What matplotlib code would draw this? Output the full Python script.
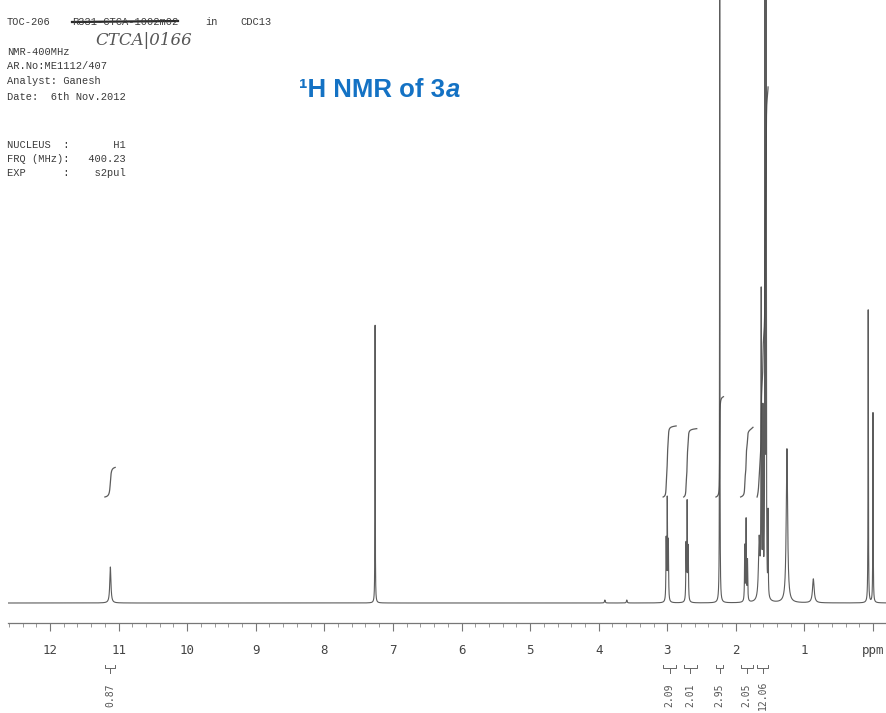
"""Scanned 1H NMR spectrum of 3a, redrawn with matplotlib."""

import matplotlib
matplotlib.use("Agg")
import matplotlib.pyplot as plt
import matplotlib.transforms as mtransforms
import numpy as np

W, H = 887, 713
INK = "#4a4a4a"
TITLE_BLUE = "#1472c4"

# peak list: shift (ppm), height (arb.), half width (ppm)
peak_shift = [11.12, 7.26, 3.91, 3.59,
              3.016, 3.000, 2.984,
              2.726, 2.710, 2.694,
              2.235,
              1.870, 1.850, 1.830,
              1.660, 1.630, 1.605, 1.575, 1.558, 1.530,
              1.255, 0.870, 0.070, 0.000]
peak_height = [36, 278, 3, 3,
               60, 100, 58,
               55, 97, 52,
               720,
               55, 81, 40,
               60, 300, 180, 680, 620, 83,
               154, 24, 293, 190]
peak_width = [0.010, 0.0025, 0.006, 0.006,
              0.004, 0.004, 0.004,
              0.004, 0.004, 0.004,
              0.0025,
              0.004, 0.004, 0.004,
              0.012, 0.004, 0.004, 0.003, 0.003, 0.003,
              0.012, 0.014, 0.003, 0.003]

# integration regions (ppm, high -> low) and printed values
integral_from = [11.20, 3.06, 2.76, 2.29, 1.93, 1.69]
integral_to = [11.05, 2.87, 2.57, 2.18, 1.75, 1.53]
integral_value = ["0.87", "2.09", "2.01", "2.95", "2.05", "12.06"]

tick_ppm = list(range(12, -1, -1))
tick_text = [str(t) for t in range(12, 0, -1)] + ["ppm"]

header_lines = [
    ("NMR-400MHz", 52),
    ("AR.No:ME1112/407", 66),
    ("Analyst: Ganesh", 81),
    ("Date:  6th Nov.2012", 97),
    ("NUCLEUS  :       H1", 145),
    ("FRQ (MHz):   400.23", 159),
    ("EXP      :    s2pul", 173),
]

PX_PER_H = 34      # integral rise per proton
INT_BASE = 106     # integral start level above baseline


def fx(px):
    return px / W


def fy(py):
    return 1 - py / H


fig = plt.figure(figsize=(W / 100, H / 100), dpi=100)
fig.patch.set_facecolor("white")

# spectrum axes: bottom edge is the ppm ruler
ax = fig.add_axes([fx(8), fy(623), fx(887) - fx(8), fy(0) - fy(623)])
left_ppm = 12 + (50 - 8) / 68.58
right_ppm = -(887 - 873) / 68.58
ax.set_xlim(left_ppm, right_ppm)
ax.set_ylim(-20, 603)

ppm = np.linspace(left_ppm, right_ppm, 60000)
spec = np.zeros_like(ppm)
for c, h, w in zip(peak_shift, peak_height, peak_width):
    spec += h * w**2 / ((ppm - c) ** 2 + w**2)
ax.plot(ppm, spec, color=INK, lw=0.8, alpha=0.9)

# integral curves
for a, b, v in zip(integral_from, integral_to, integral_value):
    m = (ppm <= a) & (ppm >= b)
    cum = np.cumsum(spec[m])
    cum = (cum - cum[0]) / (cum[-1] - cum[0])
    ax.plot(ppm[m], INT_BASE + cum * float(v) * PX_PER_H,
            color=INK, lw=0.9, alpha=0.9)

for s in ["top", "left", "right"]:
    ax.spines[s].set_visible(False)
ax.spines["bottom"].set_color("#777777")
ax.spines["bottom"].set_linewidth(0.9)
ax.set_yticks([])
ax.set_xticks(tick_ppm)
ax.set_xticklabels(tick_text)
ax.set_xticks(np.arange(0, 12.61, 0.2), minor=True)
ax.tick_params(axis="x", which="major", length=6, width=0.8, color="#777777",
               pad=9, labelsize=9, labelcolor="#444444")
ax.tick_params(axis="x", which="minor", length=3, width=0.6, color="#888888")
for lab in ax.get_xticklabels():
    lab.set_family("DejaVu Sans Mono")

# integration brackets and values under the ruler
blend = mtransforms.blended_transform_factory(ax.transData, fig.transFigure)
for a, b, v in zip(integral_from, integral_to, integral_value):
    yb = fy(668)
    mid = (a + b) / 2
    ax.plot([a, a, b, b], [fy(665), yb, yb, fy(665)], transform=blend,
            color="#666666", lw=0.7, clip_on=False)
    ax.plot([mid, mid], [yb, fy(673)], transform=blend,
            color="#666666", lw=0.7, clip_on=False)
    ax.text(mid, fy(695), v, transform=blend, rotation=90, ha="center",
            va="center", fontsize=7, family="DejaVu Sans Mono", color="#555555")

# scanned header
mono = dict(family="Liberation Mono", fontsize=7.5, color="#3a3a3a", va="baseline")
fig.text(fx(7), fy(25), "TOC-206", **mono)
fig.text(fx(72), fy(25), "R331-CTCA-1002m02", **mono)
fig.text(fx(205), fy(25), "in", **mono)
fig.text(fx(240), fy(25), "CDC13", **mono)
fig.add_artist(plt.Line2D([fx(72), fx(178)], [fy(22), fy(21)], color="#2a2a2a", lw=1.6))
for txt, y in header_lines:
    fig.text(fx(7), fy(y + 3), txt, **mono)
fig.text(fx(95), fy(45), "CTCA|0166", family="DejaVu Serif", style="italic",
         fontsize=12, color="#555555", va="baseline")

# title
t = fig.text(fx(299), fy(97), "\u00b9H NMR of 3", family="Liberation Sans",
             fontweight="bold", fontsize=18.5, color=TITLE_BLUE, va="baseline")
ax.annotate("a", xy=(1, 0), xycoords=t, xytext=(0.5, 0), textcoords="offset points",
            family="Liberation Sans", fontweight="bold", style="italic",
            fontsize=18.5, color=TITLE_BLUE, va="bottom", ha="left",
            annotation_clip=False)

fig.savefig("out.png", dpi=100)
